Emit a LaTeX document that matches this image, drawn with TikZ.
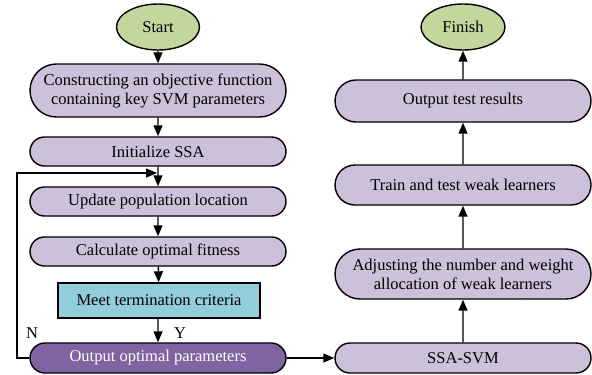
\documentclass[tikz,border=0pt]{standalone}
\usepackage{fontspec}
\setmainfont{Liberation Serif}
\newfontfamily\tnr{Liberation Serif}
\usetikzlibrary{shapes.misc,shapes.geometric,arrows.meta}
\definecolor{lav}{HTML}{CCC0DA}
\definecolor{grn}{HTML}{C3D69B}
\definecolor{cyn}{HTML}{92CDDC}
\definecolor{pur}{HTML}{8064A2}
\begin{document}
\begin{tikzpicture}[x=1pt,y=-1pt,
  every node/.style={font=\tnr\fontsize{16.5}{19}\selectfont, text=black, align=center, inner sep=0pt},
  term/.style={ellipse, draw, line width=1.4pt, fill=grn, minimum width=83pt, minimum height=46pt},
  pbox/.style={rounded rectangle, draw, line width=1.4pt, fill=lav, minimum width=256pt},
  rbox/.style={rectangle, draw, line width=1.4pt, fill=cyn, minimum width=202pt, minimum height=35pt},
  arr/.style={line width=1.4pt, -{Triangle[length=11pt,width=9pt]}},
  lbl/.style={font=\tnr\fontsize{16.5}{19}\selectfont}]
\useasboundingbox (0,0) rectangle (592,375);
% left column
\node[term] (start) at (158,27) {Start};
\node[pbox, minimum height=53pt] (obj) at (158,90.5) {Constructing an objective function\\containing key SVM parameters};
\node[pbox, minimum height=29pt] (init) at (158,151.5) {Initialize SSA};
\node[pbox, minimum height=29pt] (upd) at (158,201.5) {Update population location};
\node[pbox, minimum height=29pt] (calc) at (158,251.5) {Calculate optimal fitness};
\node[rbox] (meet) at (159,300.5) {Meet termination criteria};
\node[pbox, minimum height=30pt, fill=pur, text=white] (outopt) at (158,358) {Output optimal parameters};
% right column
\node[term, minimum width=84pt] (fin) at (463,27) {Finish};
\node[pbox, minimum height=42pt] (outtest) at (463,101) {Output test results};
\node[pbox, minimum height=40pt] (train) at (463,185) {Train and test weak learners};
\node[pbox, minimum height=50pt] (adj) at (463,274) {Adjusting the number and weight\\allocation of weak learners};
\node[pbox, minimum height=30pt] (svm) at (463,358) {SSA-SVM};
% arrows
\draw[arr] (start) -- (obj);
\draw[arr] (obj) -- (init);
\draw[arr] (init) -- (upd);
\draw[arr] (upd) -- (calc);
\draw[arr] (calc) -- (meet);
\draw[arr] (meet.south -| outopt) -- (outopt);
\coordinate (lp) at (17,358);
\coordinate (lt) at (157,173);
\draw[arr] (outopt.west) -- (lp) |- (lt);
\draw[arr] (outopt.east) -- (svm.west);
\draw[arr] (svm) -- (adj);
\draw[arr] (adj) -- (train);
\draw[arr] (train) -- (outtest);
\draw[arr] (outtest) -- (fin);
\node[lbl] (N) at (32,333) {N};
\node[lbl] (Y) at (180,333) {Y};
\end{tikzpicture}
\end{document}
